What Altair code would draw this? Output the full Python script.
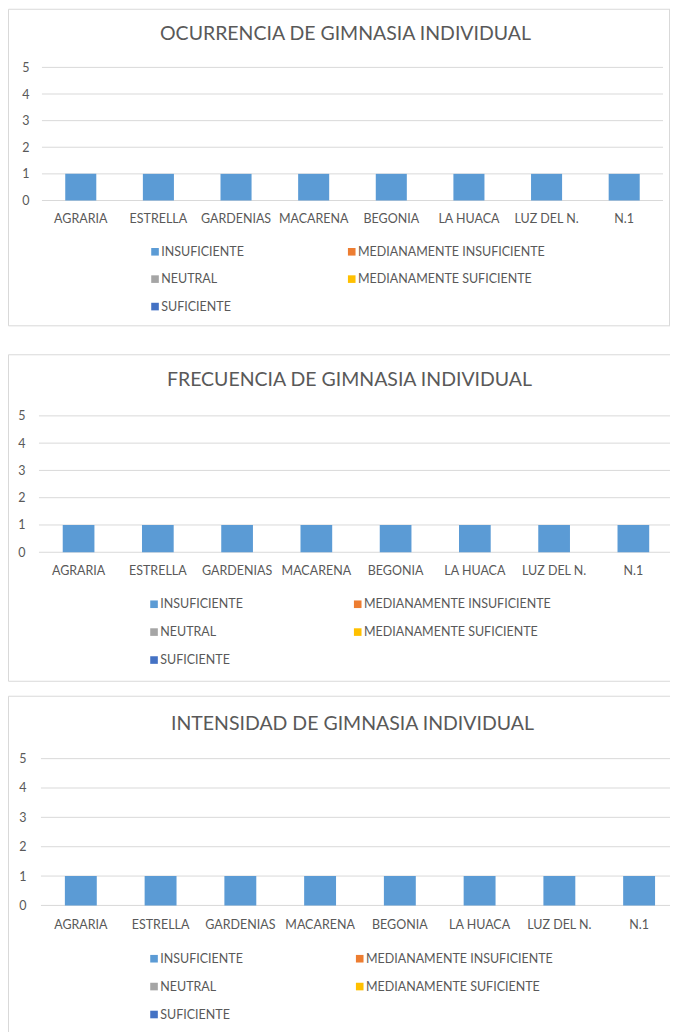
import altair as alt
import pandas as pd

# ---------------- data ----------------
categories = ["AGRARIA", "ESTRELLA", "GARDENIAS", "MACARENA", "BEGONIA",
              "LA HUACA", "LUZ DEL N.", "N.1"]
series = ["INSUFICIENTE", "MEDIANAMENTE INSUFICIENTE", "NEUTRAL",
          "MEDIANAMENTE SUFICIENTE", "SUFICIENTE"]
series_colors = ["#5B9BD5", "#ED7D31", "#A5A5A5", "#FFC000", "#4472C4"]
y_ticks = [0, 1, 2, 3, 4, 5]

titles = ["OCURRENCIA DE GIMNASIA INDIVIDUAL",
          "FRECUENCIA DE GIMNASIA INDIVIDUAL",
          "INTENSIDAD DE GIMNASIA INDIVIDUAL"]

ocurrencia_insuficiente = [1, 1, 1, 1, 1, 1, 1, 1]
ocurrencia_med_insuficiente = [0, 0, 0, 0, 0, 0, 0, 0]
ocurrencia_neutral = [0, 0, 0, 0, 0, 0, 0, 0]
ocurrencia_med_suficiente = [0, 0, 0, 0, 0, 0, 0, 0]
ocurrencia_suficiente = [0, 0, 0, 0, 0, 0, 0, 0]

frecuencia_insuficiente = [1, 1, 1, 1, 1, 1, 1, 1]
frecuencia_med_insuficiente = [0, 0, 0, 0, 0, 0, 0, 0]
frecuencia_neutral = [0, 0, 0, 0, 0, 0, 0, 0]
frecuencia_med_suficiente = [0, 0, 0, 0, 0, 0, 0, 0]
frecuencia_suficiente = [0, 0, 0, 0, 0, 0, 0, 0]

intensidad_insuficiente = [1, 1, 1, 1, 1, 1, 1, 1]
intensidad_med_insuficiente = [0, 0, 0, 0, 0, 0, 0, 0]
intensidad_neutral = [0, 0, 0, 0, 0, 0, 0, 0]
intensidad_med_suficiente = [0, 0, 0, 0, 0, 0, 0, 0]
intensidad_suficiente = [0, 0, 0, 0, 0, 0, 0, 0]

panels_values = [
    [ocurrencia_insuficiente, ocurrencia_med_insuficiente, ocurrencia_neutral,
     ocurrencia_med_suficiente, ocurrencia_suficiente],
    [frecuencia_insuficiente, frecuencia_med_insuficiente, frecuencia_neutral,
     frecuencia_med_suficiente, frecuencia_suficiente],
    [intensidad_insuficiente, intensidad_med_insuficiente, intensidad_neutral,
     intensidad_med_suficiente, intensidad_suficiente],
]

# ---------------- style ----------------
FONT = "Lato"
TXT = "#595959"
GRID = "#D9D9D9"
BORDER = "#D9D9D9"


def long_df(values):
    rows = []
    for si, (s, vals) in enumerate(zip(series, values)):
        for c, v in zip(categories, vals):
            rows.append({"cat": c, "series": s, "value": v, "order": si})
    return pd.DataFrame(rows)


def frame_rule(x, x2, y, y2):
    return alt.Chart(pd.DataFrame({"k": [0]})).mark_rule(
        color=BORDER, strokeWidth=1).encode(
        x=alt.value(x), x2=alt.value(x2), y=alt.value(y), y2=alt.value(y2))


def panel(title, values, w, h, xr, grid_end, yr, ypad, xlab_y, title_x,
          title_y, leg_x, leg_y, col_pad, row_pad, right_border):
    df = long_df(values)
    grid_df = pd.DataFrame({"value": y_ticks})
    yscale = alt.Scale(domain=[0, 5], range=[yr[0], yr[1]], nice=False)
    yaxis = alt.Axis(values=y_ticks, offset=-xr[0], labelPadding=ypad,
                     domain=False, ticks=False, grid=False, title=None,
                     labelColor=TXT, labelFont=FONT, labelFontSize=12.5,
                     format="d")
    grid = alt.Chart(grid_df).mark_rule(color=GRID, strokeWidth=1).encode(
        y=alt.Y("value:Q", scale=yscale, axis=yaxis),
        x=alt.value(xr[0]), x2=alt.value(grid_end))
    xaxis = alt.Axis(orient="bottom", offset=-(h - yr[0]),
                     labelPadding=xlab_y - yr[0] - 6.5, labelAngle=0,
                     domain=False, ticks=False, grid=False, title=None,
                     labelColor=TXT, labelFont=FONT, labelFontSize=12.5)
    legend = alt.Legend(orient="none", legendX=leg_x, legendY=leg_y,
                        direction="horizontal", columns=2, title=None,
                        symbolType="square",
                        symbolSize=58, symbolStrokeWidth=0, labelOffset=0,
                        labelColor=TXT, labelFont=FONT, labelFontSize=12.5,
                        columnPadding=col_pad, rowPadding=row_pad, padding=0,
                        labelLimit=400)
    bars = alt.Chart(df).mark_bar().encode(
        x=alt.X("cat:N",
                scale=alt.Scale(domain=categories, range=[xr[0], xr[1]],
                                paddingInner=0.6, paddingOuter=0.3),
                axis=xaxis),
        y=alt.Y("value:Q", stack="zero", scale=yscale, axis=yaxis),
        color=alt.Color("series:N",
                        scale=alt.Scale(domain=series, range=series_colors),
                        legend=legend),
        order=alt.Order("order:Q"))
    head = alt.Chart(pd.DataFrame({"t": [title]})).mark_text(
        font=FONT, fontSize=19.5, color=TXT, align="center",
        baseline="middle").encode(
        text="t:N", x=alt.value(title_x), y=alt.value(title_y))
    layers = [
        frame_rule(0.5, 0.5, 0.5, h - 0.5),          # left edge
        frame_rule(0.5, w, 0.5, 0.5),                # top edge
        frame_rule(0.5, w, h - 0.5, h - 0.5),        # bottom edge
    ]
    if right_border:
        layers.append(frame_rule(w - 0.5, w - 0.5, 0.5, h - 0.5))
    layers += [grid, bars, head]
    return alt.layer(*layers).properties(
        width=w, height=h,
        view=alt.ViewBackground(stroke="transparent", strokeWidth=0,
                                fill="white"))


W = 663
p1 = panel(titles[0], panels_values[0], W, 318, (34, 656), 656, (192, 58.7),
           13, 211, 338, 25.5, 141, 237, 101, 14.5, True)
p2 = panel(titles[1], panels_values[1], W, 328, (31, 666), W, (198.3, 61.7),
           14, 217, 342, 26, 140, 244, 108, 15, False)
p3 = panel(titles[2], panels_values[2], W, 345, (33, 672), W, (210, 63),
           15, 230, 345, 28, 140, 257, 110, 15, False)

lower = alt.vconcat(p2, p3, spacing=14).resolve_scale(
    x="independent", y="independent", color="independent"
).resolve_legend(color="independent")

chart = alt.vconcat(p1, lower, spacing=28).resolve_scale(
    x="independent", y="independent", color="independent"
).resolve_legend(color="independent").properties(
    padding=0
).configure_view(
    stroke="transparent", strokeWidth=0, fill="white"
).configure(
    font=FONT, background="white",
    style={"cell": {"stroke": "transparent", "strokeWidth": 0}}
)

chart.save("out.html", embed_options={"renderer": "svg", "actions": False})
